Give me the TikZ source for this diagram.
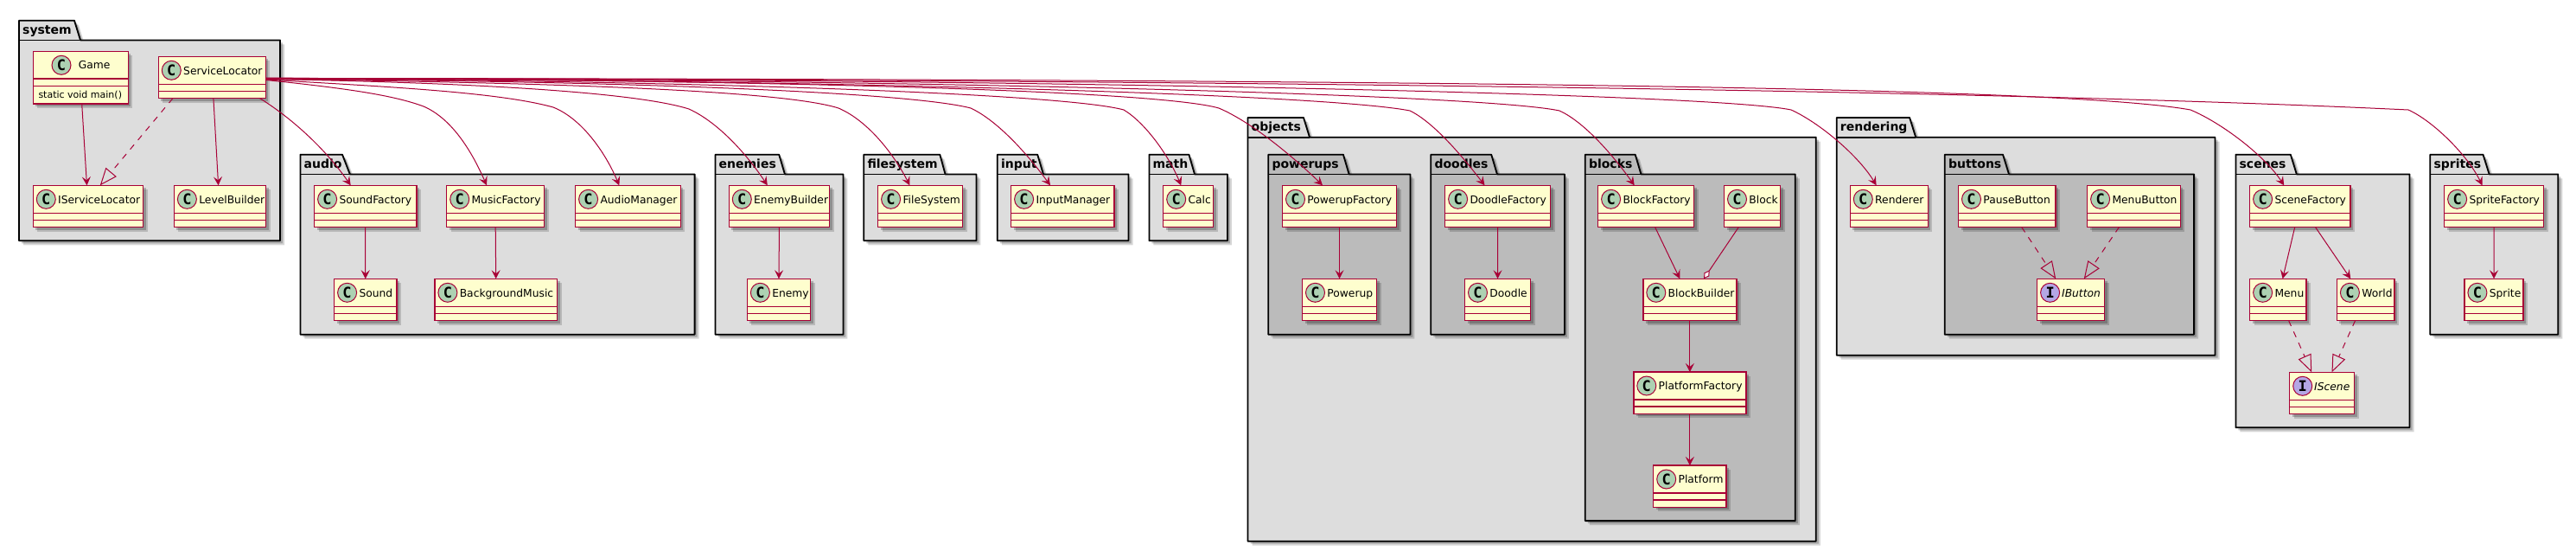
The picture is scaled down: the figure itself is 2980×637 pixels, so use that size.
\documentclass[tikz,border=0pt]{standalone}
\usepackage{fontspec}
\setmainfont{DejaVu Sans}
\newfontfamily\monob{DejaVu Sans Mono}[BoldFont={DejaVu Sans Mono Bold}]
\usetikzlibrary{arrows.meta,calc,shadows}
\definecolor{umlred}{HTML}{A80036}
\definecolor{umlfill}{HTML}{FEFECE}
\definecolor{pkgA}{HTML}{DDDDDD}
\definecolor{pkgB}{HTML}{BBBBBB}
\definecolor{spotC}{HTML}{ADD1B2}
\definecolor{spotI}{HTML}{B4A7E5}
\tikzset{
  softshadow/.style={general shadow={shadow xshift=3pt,shadow yshift=-3pt,fill=black,opacity=.22},
                     general shadow={shadow xshift=5pt,shadow yshift=-5pt,fill=black,opacity=.16}},
  classbox/.style={draw=umlred,fill=umlfill,line width=1.5pt,inner sep=0pt,outer sep=0pt,softshadow},
  classline/.style={draw=umlred,line width=1.5pt},
  classlabel/.style={anchor=base west,inner sep=0pt,font=\fontsize{12.3}{14}\selectfont},
  spot/.style={circle,draw=umlred,line width=1pt,minimum size=22pt,inner sep=0pt,
     font=\monob\bfseries\fontsize{17}{17}\selectfont},
  pkgshape/.style={draw=black,line width=1.8pt,line join=round,softshadow},
  pkglabel/.style={anchor=base west,inner sep=0pt,font=\bfseries\fontsize{14}{16}\selectfont},
  rel/.style={draw=umlred,line width=1pt,-{Stealth[length=10pt,width=10pt,inset=4pt]}},
  realize/.style={draw=umlred,line width=1pt,dash pattern=on 7pt off 7pt,-{Triangle[open,length=20pt,width=16pt]}},
  aggreg/.style={draw=umlred,line width=1pt,-{Diamond[fill=white,length=12pt,width=7pt]}},
}
% id, label, fill, left, tab end top, tab end bottom, right, top, bottom
\newcommand\pkgbox[9]{%
  \pgfmathsetmacro\bodyt{#8+22.7}%
  \pgfmathsetmacro\basey{#8+15.3}%
  \pgfmathsetmacro\labx{#4+4}%
  \path[pkgshape,fill=#3] (#4,\bodyt) -- (#4,#8) -- (#5,#8) -- (#6,\bodyt) -- (#7,\bodyt) -- (#7,#9) -- (#4,#9) -- cycle;
  \draw[draw=black,line width=1.8pt] (#4,\bodyt) -- (#6,\bodyt);
  \node[pkglabel] (#1) at (\labx,\basey) {#2};
}
% id, x1, x2, y1, label
\newcommand\clsbox[5]{%
  \pgfmathsetmacro\boxw{#3-#2}%
  \node[classbox,anchor=north west,minimum width=\boxw pt,minimum height=48.3pt] (#1) at (#2,#4) {};
  \draw[classline] ([yshift=-32pt]#1.north west) -- ([yshift=-32pt]#1.north east);
  \draw[classline] ([yshift=-40pt]#1.north west) -- ([yshift=-40pt]#1.north east);
  \node[spot,fill=spotC] (#1s) at ($(#1.north west)+(15,16)$) {C};
  \node[classlabel] (#1t) at ($(#1.north west)+(28.7,20.7)$) {#5};
}
\newcommand\ifcbox[5]{%
  \pgfmathsetmacro\boxw{#3-#2}%
  \node[classbox,anchor=north west,minimum width=\boxw pt,minimum height=48.3pt] (#1) at (#2,#4) {};
  \draw[classline] ([yshift=-32pt]#1.north west) -- ([yshift=-32pt]#1.north east);
  \draw[classline] ([yshift=-40pt]#1.north west) -- ([yshift=-40pt]#1.north east);
  \node[spot,fill=spotI] (#1s) at ($(#1.north west)+(15,16)$) {I};
  \node[classlabel,font=\itshape\fontsize{12.3}{14}\selectfont] (#1t) at ($(#1.north west)+(28.3,20.7)$) {#5};
}
\begin{document}
\begin{tikzpicture}[x=1pt,y=-1pt]
\useasboundingbox (0,0) rectangle (2980,637);
% packages
\pkgbox{pSystem}{system}{pkgA}{22}{86}{93}{324}{23.7}{278.3}
\pkgbox{pAudio}{audio}{pkgA}{347.4}{396}{404.8}{803.6}{178.7}{386.7}
\pkgbox{pEnemies}{enemies}{pkgA}{827.5}{901.2}{907.9}{975.4}{178.7}{386.7}
\pkgbox{pFile}{filesystem}{pkgA}{999.3}{1087.3}{1093.5}{1129.4}{178.7}{278.3}
\pkgbox{pInput}{input}{pkgA}{1153.8}{1200.2}{1206.9}{1305.5}{178.7}{278.3}
\pkgbox{pMath}{math}{pkgA}{1329.4}{1375.4}{1382}{1419.9}{178.7}{278.3}
\pkgbox{pObjects}{objects}{pkgA}{1443.5}{1508}{1515}{2100.8}{136}{625.7}
\pkgbox{pPowerups}{powerups}{pkgB}{1467.3}{1553.9}{1560.6}{1631.4}{178.7}{386.7}
\pkgbox{pDoodles}{doodles}{pkgB}{1655.3}{1725.2}{1731.9}{1809.9}{178.7}{386.7}
\pkgbox{pBlocks}{blocks}{pkgB}{1833.8}{1891.7}{1898.4}{2076.8}{178.7}{602.1}
\pkgbox{pRendering}{rendering}{pkgA}{2124.7}{2209.1}{2216.2}{2562.5}{136}{410.7}
\pkgbox{pButtons}{buttons}{pkgB}{2249.8}{2317}{2324}{2538.1}{178.7}{386.7}
\pkgbox{pScenes}{scenes}{pkgA}{2586.4}{2649.8}{2656.8}{2787.5}{178.7}{494.3}
\pkgbox{pSprites}{sprites}{pkgA}{2811.3}{2872.5}{2879.6}{2959.3}{178.7}{386.7}
% Game (taller class)
\node[classbox,anchor=north west,minimum width=110pt,minimum height=60.7pt] (game) at (38.3,59.3) {};
\draw[classline] ([yshift=-31.7pt]game.north west) -- ([yshift=-31.7pt]game.north east);
\draw[classline] ([yshift=-40pt]game.north west) -- ([yshift=-40pt]game.north east);
\node[spot,fill=spotC] (games) at ($(game.north west)+(32.7,16)$) {C};
\node[classlabel] (gamet) at ($(game.north west)+(52.4,20.4)$) {Game};
\node[anchor=base west,inner sep=0pt,font=\fontsize{11}{13}\selectfont] (gamem) at ($(game.north west)+(6,53.7)$) {static void main()};
% classes
\clsbox{sl}{183.3}{307.3}{65.3}{ServiceLocator}
\clsbox{isl}{38.3}{165.5}{214.3}{IServiceLocator}
\clsbox{lb}{201.4}{307.7}{214.3}{LevelBuilder}
\clsbox{sf}{363.6}{481.8}{214.3}{SoundFactory}
\clsbox{mf}{516.7}{629.7}{214.3}{MusicFactory}
\clsbox{am}{665.6}{787.3}{214.3}{AudioManager}
\clsbox{snd}{386.6}{458.9}{322.3}{Sound}
\clsbox{bm}{502.9}{644.5}{322.3}{BackgroundMusic}
\clsbox{eb}{843.3}{959.6}{214.3}{EnemyBuilder}
\clsbox{en}{864.4}{937.6}{322.3}{Enemy}
\clsbox{fsys}{1015.6}{1113.6}{214.3}{FileSystem}
\clsbox{im}{1169.6}{1288.8}{214.3}{InputManager}
\clsbox{calc}{1345.7}{1403.6}{214.3}{Calc}
\clsbox{puf}{1483.5}{1615.6}{214.3}{PowerupFactory}
\clsbox{pu}{1506.5}{1592.6}{322.3}{Powerup}
\clsbox{df}{1671.6}{1793.6}{214.3}{DoodleFactory}
\clsbox{dd}{1694.5}{1770.6}{322.3}{Doodle}
\clsbox{bf}{1848.6}{1959.6}{214.3}{BlockFactory}
\clsbox{bl}{1994.5}{2059.6}{214.3}{Block}
\clsbox{bb}{1900.8}{2008.9}{322.3}{BlockBuilder}
\clsbox{plf}{1889.8}{2019.9}{430}{PlatformFactory}
\clsbox{pl}{1912.7}{1997}{538}{Platform}
\clsbox{rend}{2140.3}{2230.3}{214.3}{Renderer}
\clsbox{pb}{2265.5}{2378.2}{214.3}{PauseButton}
\clsbox{menub}{2414.6}{2522.4}{214.3}{MenuButton}
\ifcbox{ib}{2356.6}{2434.6}{322.3}{IButton}
\clsbox{scf}{2602.6}{2719.2}{214.3}{SceneFactory}
\clsbox{menu}{2602.6}{2668.2}{322.3}{Menu}
\clsbox{world}{2703.4}{2770.1}{322.3}{World}
\ifcbox{isc}{2648.7}{2723.5}{430.3}{IScene}
\clsbox{spf}{2827.6}{2942.5}{214.3}{SpriteFactory}
\clsbox{spr}{2850.9}{2919.2}{322.3}{Sprite}
% local connectors
\draw[rel] ($(game.south west)+(56.4,0)$) -- ($(isl.north west)+(62.2,0)$);
\draw[rel] ($(sl.south west)+(63.6,0)$) -- ($(lb.north west)+(51.2,0)$);
\draw[realize] ($(sl.south west)+(16.7,0)$) -- ($(isl.north west)+(77.5,0)$);
\draw[rel] (sf.south) -- (snd.north);
\draw[rel] (mf.south) -- (bm.north);
\draw[rel] (eb.south) -- (en.north);
\draw[rel] (puf.south) -- (pu.north);
\draw[rel] (df.south) -- (dd.north);
\draw[rel] ($(bf.south west)+(66,0)$) -- ($(bb.north west)+(42.5,0)$);
\draw[aggreg] ($(bl.south west)+(16.8,0)$) -- ($(bb.north west)+(70.2,0)$);
\draw[rel] (bb.south) -- (plf.north);
\draw[rel] (plf.south) -- (pl.north);
\draw[realize] ($(pb.south west)+(73.2,0)$) -- ($(ib.north west)+(21.6,0)$);
\draw[realize] ($(menub.south west)+(36.8,0)$) -- ($(ib.north west)+(54.2,0)$);
\draw[rel] ($(scf.south west)+(52.1,0)$) -- ($(menu.north west)+(38,0)$);
\draw[rel] ($(scf.south west)+(75.9,0)$) -- ($(world.north west)+(15.8,0)$);
\draw[realize] ($(menu.south west)+(45,0)$) -- ($(isc.north west)+(25.5,0)$);
\draw[realize] ($(world.south west)+(21.2,0)$) -- ($(isc.north west)+(48.8,0)$);
\draw[rel] (spf.south) -- (spr.north);
% ServiceLocator fan-out
\draw[rel] ($(sl.south east)+(-6.8,0)$) .. controls (335,135) and (375,170) .. ($(sf.north west)+(42.1,0)$);
\draw[rel] ([yshift=-3pt]sl.east) .. controls (400,102) and (455,110) .. (490,123) .. controls (525,138) and (548,180) .. ($(mf.north west)+(46.3,0)$);
\draw[rel] ([yshift=-2.5pt]sl.east) .. controls (440,100) and (575,106) .. (640,124) .. controls (675,138) and (702,180) .. ($(am.north west)+(50.7,0)$);
\draw[rel] ([yshift=-2pt]sl.east) .. controls (520,95) and (730,105) .. (797,126) .. controls (832,142) and (865,180) .. ($(eb.north west)+(44.5,0)$);
\draw[rel] ([yshift=-2pt]sl.east) .. controls (600,95) and (900,103) .. (970,125) .. controls (1005,140) and (1035,180) .. ($(fsys.north west)+(36.8,0)$);
\draw[rel] ([yshift=-2pt]sl.east) .. controls (700,93) and (1050,106) .. (1123,125) .. controls (1155,140) and (1190,180) .. ($(im.north west)+(45.4,0)$);
\draw[rel] ([yshift=-1.5pt]sl.east) .. controls (800,93) and (1230,108) .. (1300,127) .. controls (1325,142) and (1352,180) .. ($(calc.north west)+(20.6,0)$);
\draw[rel] ([yshift=-1.5pt]sl.east) .. controls (900,92) and (1340,105) .. (1410,125) .. controls (1450,142) and (1500,185) .. ($(puf.north west)+(46.5,0)$);
\draw[rel] ([yshift=-1.5pt]sl.east) .. controls (1000,92) and (1540,110) .. (1631,128) .. controls (1660,142) and (1695,185) .. ($(df.north west)+(45.9,0)$);
\draw[rel] ([yshift=-1pt]sl.east) .. controls (1100,91.5) and (1720,110) .. (1804,128) .. controls (1835,142) and (1870,185) .. ($(bf.north west)+(42.1,0)$);
\draw[rel] ([yshift=-1pt]sl.east) .. controls (1200,91) and (1980,108) .. (2072,127) .. controls (2105,142) and (2150,180) .. ($(rend.north west)+(30.3,0)$);
\draw[rel] ([yshift=-1pt]sl.east) .. controls (1800,91.5) and (2400,103) .. (2534,127) .. controls (2570,142) and (2620,180) .. ($(scf.north west)+(39.6,0)$);
\draw[rel] ([yshift=-1pt]sl.east) .. controls (1400,92) and (2300,104) .. (2786,127) .. controls (2815,140) and (2855,180) .. ($(spf.north west)+(43.9,0)$);
\end{tikzpicture}
\end{document}
